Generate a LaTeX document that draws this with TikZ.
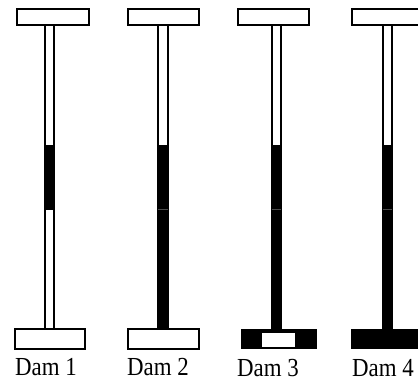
\documentclass[tikz,border=0pt]{standalone}
\usepackage{fontspec}
\setmainfont{Liberation Serif}
\begin{document}
\begin{tikzpicture}[x=1pt,y=-1pt,
  flange/.style={draw,line width=1.6pt,fill=white},
  stem/.style={draw,line width=1.6pt,fill=white},
  core/.style={fill=black},
  seam/.style={black!70,line width=0.4pt},
  damlabel/.style={anchor=base west,inner sep=0pt,xscale=0.88,transform shape,
    font=\fontsize{26}{26}\selectfont}]
 \useasboundingbox (0,0) rectangle (418,382);
 \begin{scope}
 \clip (0,0) rectangle (418,382);
 % dam 1: black core only in the middle
 \draw[stem] (45,25) rectangle (54,329);
 \fill[core] (45,145) rectangle (54,210);
 \draw[flange] (17,9) rectangle (89,25);
 \draw[flange] (15,329) rectangle (85,349);
 % dam 2: core runs down to the footing
 \draw[stem] (158,25) rectangle (168,329);
 \fill[core] (158,145) rectangle (168,329);
 \draw[seam] (158,209) -- (168,209);
 \draw[flange] (128,9) rectangle (199,25);
 \draw[flange] (128,329) rectangle (199,349);
 % dam 3: footing partly filled
 \draw[stem] (272,25) rectangle (281,329);
 \fill[core] (272,145) rectangle (281,329);
 \draw[seam] (272,209) -- (281,209);
 \draw[flange] (238,9) rectangle (309,25);
 \fill[core] (241,329) rectangle (317,349);
 \fill[white] (262,333) rectangle (295,347);
 % dam 4: footing fully filled
 \draw[stem] (383,25) rectangle (392,329);
 \fill[core] (383,145) rectangle (392,329);
 \draw[seam] (383,209) -- (392,209);
 \draw[flange] (352,9) rectangle (425,25);
 \fill[core] (351,329) rectangle (425,349);
 \end{scope}
 % labels
 \node[damlabel] (d1) at (15,375) {Dam 1};
 \node[damlabel] (d2) at (127,375) {Dam 2};
 \node[damlabel] (d3) at (237,377) {Dam 3};
 \node[damlabel] (d4) at (352,377) {Dam 4};
\end{tikzpicture}
\end{document}
